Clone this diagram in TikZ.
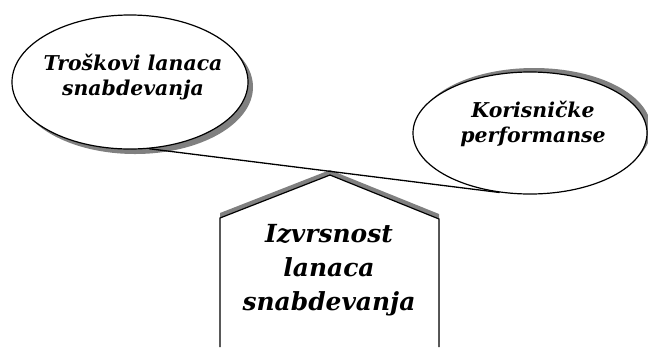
\documentclass[tikz,border=0pt]{standalone}
\usepackage{fontspec}
\setmainfont{DejaVu Serif}
\usetikzlibrary{shapes.geometric,shadows}
\begin{document}
\begin{tikzpicture}[x=1bp,y=-1bp,
  oval/.style={ellipse,draw=black,line width=1.2bp,fill=white,inner sep=0pt},
  lbl/.style={align=center,inner sep=0pt,font=\bfseries\itshape\fontsize{20.5}{25.5}\selectfont},
  biglbl/.style={align=center,inner sep=0pt,font=\bfseries\itshape\fontsize{25}{34}\selectfont},
  shade/.style={fill=black!50,draw=none}]
\useasboundingbox (0,0) rectangle (648,347);
% left ellipse
\node[oval,minimum width=236bp,minimum height=134bp,
  drop shadow={shadow xshift=5bp,shadow yshift=-5bp,fill=black!50,opacity=1}] (L) at (130,82) {};
\node[lbl] (Lt) at (133,77) {Troškovi lanaca\\snabdevanja};
% right ellipse
\node[oval,minimum width=234bp,minimum height=122bp,
  drop shadow={shadow xshift=4bp,shadow yshift=4bp,fill=black!50,opacity=1}] (R) at (530,133) {};
\node[lbl] (Rt) at (533,124) {Korisničke\\performanse};
% pentagon
\coordinate (p1) at (220,347);
\coordinate (p2) at (220,218);
\coordinate (p3) at (330,175);
\coordinate (p4) at (439,219);
\coordinate (p5) at (439,347);
\fill[shade] ([yshift=5bp]p1) -- ([yshift=5bp]p2) -- ([yshift=5bp]p3) -- ([yshift=5bp]p4) -- ([yshift=5bp]p5) -- cycle;
\fill[white] (p1) -- (p2) -- (p3) -- (p4) -- (p5) -- cycle;
\draw[line width=1.2bp] (p1) -- (p2) -- (p3) -- (p4) -- (p5);
\node[biglbl] (P) at (329,270) {Izvrsnost\\lanaca\\snabdevanja};
% connector
\draw[line width=1.3bp] (L.-74) -- (R.-117);
\end{tikzpicture}
\end{document}
